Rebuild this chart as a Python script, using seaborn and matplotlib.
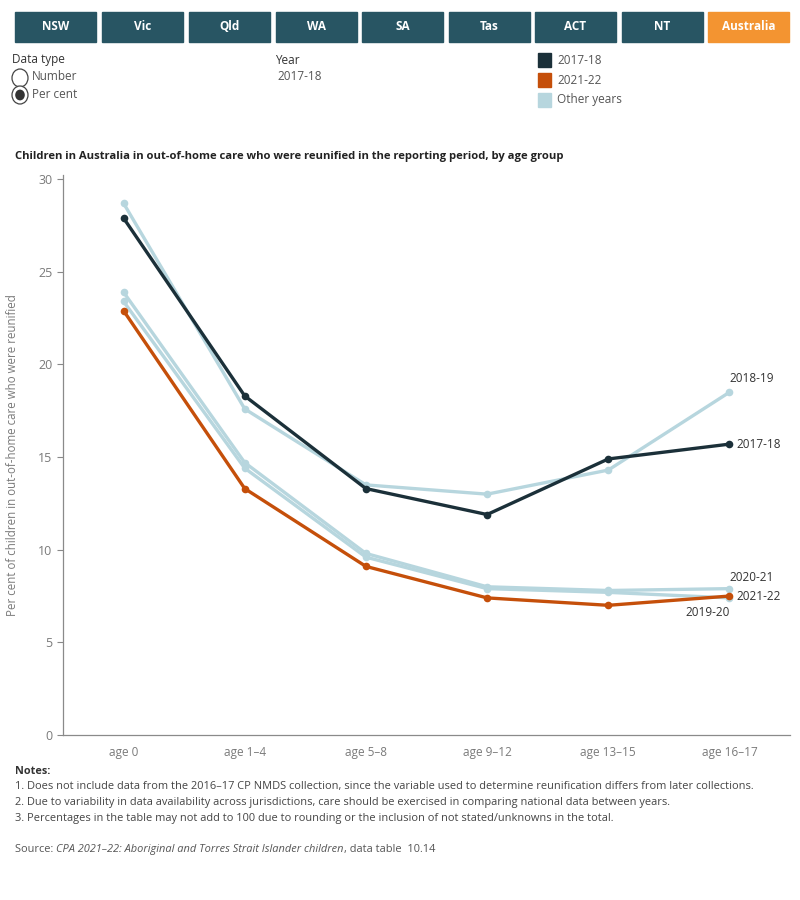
import pandas as pd
import seaborn as sns
import matplotlib.pyplot as plt
from matplotlib.patches import Rectangle, Circle

# Chart data
age_groups = ['age 0', 'age 1-4', 'age 5-8', 'age 9-12', 'age 13-15', 'age 16-17']
age_labels = ['age 0', 'age 1\u20134', 'age 5\u20138', 'age 9\u201312', 'age 13\u201315', 'age 16\u201317']
years = ['2018-19', '2019-20', '2020-21', '2021-22', '2017-18']
pct_2017_18 = [27.9, 18.3, 13.3, 11.9, 14.9, 15.7]
pct_2018_19 = [28.7, 17.6, 13.5, 13.0, 14.3, 18.5]
pct_2019_20 = [23.4, 14.4, 9.6, 7.9, 7.7, 7.4]
pct_2020_21 = [23.9, 14.7, 9.8, 8.0, 7.8, 7.9]
pct_2021_22 = [22.9, 13.3, 9.1, 7.4, 7.0, 7.5]
states = ['NSW', 'Vic', 'Qld', 'WA', 'SA', 'Tas', 'ACT', 'NT', 'Australia']

values = {'2017-18': pct_2017_18, '2018-19': pct_2018_19, '2019-20': pct_2019_20,
          '2020-21': pct_2020_21, '2021-22': pct_2021_22}

rows = []
for yr in years:
    for i, age in enumerate(age_groups):
        rows.append({'year': yr, 'age': age, 'pos': i, 'pct': values[yr][i]})
df = pd.DataFrame(rows)

DARK = '#1b3039'
ORANGE = '#c54f0a'
LIGHT = '#b7d6de'
GREY = '#7a7a7a'
palette = {'2017-18': DARK, '2021-22': ORANGE, '2018-19': LIGHT, '2019-20': LIGHT, '2020-21': LIGHT}

sns.set_style('white')
plt.rcParams['font.family'] = ['Open Sans', 'DejaVu Sans']

fig = plt.figure(figsize=(8, 9), dpi=100)

# Top filter buttons
btn_x = [15, 102, 189, 276, 362, 449, 535, 622, 708]
for i, st in enumerate(states):
    color = '#f39431' if st == 'Australia' else '#285563'
    x0 = btn_x[i] / 800
    fig.patches.append(Rectangle((x0, 1 - 42 / 900), 81 / 800, 30 / 900,
                                 transform=fig.transFigure, color=color, zorder=1))
    fig.text(x0 + 40.5 / 800, 1 - 27 / 900, st, color='white', fontsize=8.5,
             fontweight='bold', ha='center', va='center')

# Controls
fig.text(12 / 800, 1 - 60 / 900, 'Data type', fontsize=8.5, color='#333333', va='center')
fig.patches.append(Circle((20 / 800, 1 - 78 / 900), 8 / 800, transform=fig.transFigure,
                          facecolor='white', edgecolor='#444444', lw=0.9))
fig.patches.append(Circle((20 / 800, 1 - 95 / 900), 8 / 800, transform=fig.transFigure,
                          facecolor='white', edgecolor='#444444', lw=0.9))
fig.patches.append(Circle((20 / 800, 1 - 95 / 900), 4.8 / 800, transform=fig.transFigure,
                          facecolor='#333333', edgecolor='none'))
fig.text(32 / 800, 1 - 77 / 900, 'Number', fontsize=8.5, color='#555555', va='center')
fig.text(32 / 800, 1 - 94 / 900, 'Per cent', fontsize=8.5, color='#555555', va='center')
fig.text(275 / 800, 1 - 60 / 900, 'Year', fontsize=8.5, color='#333333', va='center')
fig.text(277 / 800, 1 - 77 / 900, '2017-18', fontsize=8.5, color='#555555', va='center')

for j, (lab, col) in enumerate([('2017-18', DARK), ('2021-22', ORANGE), ('Other years', LIGHT)]):
    yc = 60 + j * 20
    fig.patches.append(Rectangle((538 / 800, 1 - (yc + 7) / 900), 13 / 800, 14 / 900,
                                 transform=fig.transFigure, color=col))
    fig.text(557 / 800, 1 - yc / 900, lab, fontsize=8.5, color='#555555', va='center')

fig.text(15 / 800, 1 - 157 / 900,
         'Children in Australia in out-of-home care who were reunified in the reporting period, by age group',
         fontsize=8.15, fontweight='bold', color='#222222', va='center')

# Main chart
ax = fig.add_axes([63 / 800, 1 - 735 / 900, 727 / 800, 559.5 / 900])
sns.lineplot(data=df, x='pos', y='pct', hue='year', hue_order=years, palette=palette,
             marker='o', markersize=5.5, markeredgewidth=0, linewidth=2.4,
             legend=False, ax=ax)

ax.set_xlim(-0.5, 5.5)
ax.set_ylim(0, 30.2)
ax.set_xticks(range(len(age_groups)))
ax.set_xticklabels(age_labels, color=GREY, fontsize=8.5)
ax.set_xticks([i - 0.5 for i in range(len(age_groups) + 1)], minor=True)
ax.tick_params(axis='x', which='major', length=0, pad=8)
ax.tick_params(axis='x', which='minor', length=6, color='#888888', width=0.8, direction='out')
ax.set_yticks([0, 5, 10, 15, 20, 25, 30])
ax.tick_params(axis='y', length=4, color='#888888', width=0.8, labelcolor=GREY,
               labelsize=9, left=True)
ax.set_xlabel('')
ax.set_ylabel('Per cent of children in out-of-home care who were reunified',
              color=GREY, fontsize=8.3, labelpad=14)
for side in ['top', 'right']:
    ax.spines[side].set_visible(False)
for side in ['left', 'bottom']:
    ax.spines[side].set_color('#8a8a8a')
    ax.spines[side].set_linewidth(0.9)
ax.grid(False)

# End labels
last = len(age_groups) - 1
end_labels = [('2018-19', (0, 5), 'left', 'bottom'),
              ('2017-18', (5, 0), 'left', 'center'),
              ('2020-21', (0, 3.5), 'left', 'bottom'),
              ('2021-22', (5, 0), 'left', 'center'),
              ('2019-20', (0, -6), 'right', 'top')]
for yr, off, ha, va in end_labels:
    ax.annotate(yr, (last, values[yr][last]), xytext=off, textcoords='offset points',
                ha=ha, va=va, fontsize=8.5, color='#333333')

# Notes and source
fig.text(15 / 800, 1 - 772 / 900, 'Notes:', fontsize=7.8, fontweight='bold', color='#333333', va='center')
notes = [
    '1. Does not include data from the 2016\u201317 CP NMDS collection, since the variable used to determine reunification differs from later collections.',
    '2. Due to variability in data availability across jurisdictions, care should be exercised in comparing national data between years.',
    '3. Percentages in the table may not add to 100 due to rounding or the inclusion of not stated/unknowns in the total.',
]
for k, note in enumerate(notes):
    fig.text(15 / 800, 1 - (787 + k * 15.5) / 900, note, fontsize=7.9, color='#444444', va='center')

# source line pieces placed one after another on a shared baseline
renderer = fig.canvas.get_renderer()
x_px = 15
for piece, style in [('Source: ', 'normal'),
                     ('CPA 2021\u201322: Aboriginal and Torres Strait Islander children', 'italic'),
                     (', data table  10.14', 'normal')]:
    t = fig.text(x_px / 800, 1 - 852 / 900, piece, fontsize=7.9, color='#555555',
                 style=style, va='baseline')
    x_px += t.get_window_extent(renderer).width

fig.savefig('out.png', dpi=100)
